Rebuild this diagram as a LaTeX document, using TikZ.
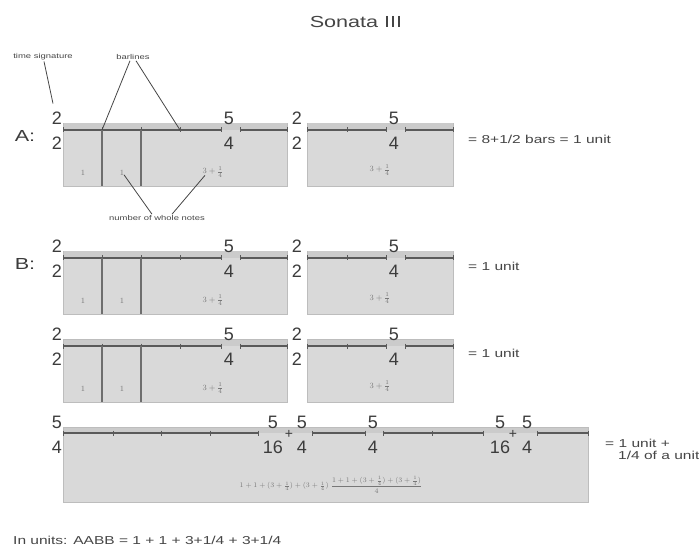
\documentclass[tikz,border=0pt]{standalone}
\usepackage{fontspec}
\setmainfont{Liberation Sans}
\newfontfamily\widefont{Liberation Sans}[FakeStretch=1.35]
\usepackage{amsmath}
\definecolor{boxfill}{HTML}{D9D9D9}
\definecolor{boxedge}{HTML}{BDBDBD}
\definecolor{bandfill}{HTML}{CBCBCB}
\definecolor{linegray}{HTML}{5A5A5A}
\definecolor{bargray}{HTML}{6E6E6E}
\definecolor{tsgray}{HTML}{3C3C3C}
\definecolor{notegray}{HTML}{454545}
\definecolor{countgray}{HTML}{777777}

\begin{document}
\begin{tikzpicture}[x=1pt, y=-1pt,
                    staff/.style={draw=boxedge, fill=boxfill, inner sep=0pt, outer sep=0pt, anchor=north west},
                    band/.style={fill=bandfill},
                    staffline/.style={draw=linegray, line width=1.2pt},
                    tick/.style={draw=linegray, line width=0.9pt},
                    barline/.style={draw=bargray, line width=2pt},
                    ts/.style={font=\fontsize{18}{18}\selectfont, text=tsgray, inner sep=0pt},
                    rowlab/.style={font=\widefont\fontsize{16}{16}\selectfont, text=tsgray, inner sep=0pt},
                    count/.style={font=\fontsize{8}{8}\selectfont, text=countgray, inner sep=1pt},
                    note/.style={font=\widefont\fontsize{11.5}{12}\selectfont, text=notegray, anchor=west, inner sep=0pt, align=left},
                    small/.style={font=\widefont\fontsize{7}{8}\selectfont, text=notegray, inner sep=1pt},
                    lbl/.style={draw=notegray, line width=0.8pt}]

\useasboundingbox (0,0) rectangle (699,548);

\node[font=\widefont\fontsize{16}{16}\selectfont, text=notegray] (title) at (356,22) {Sonata III};

% phrase A and the two B phrases
\foreach \r/\L/\lab in {a/130/A:, b/258/B:, c/346/} {
  \node[staff, minimum width=224pt, minimum height=63pt] (\r-m1) at (63,\L-7) {};
  \node[staff, minimum width=146pt, minimum height=63pt] (\r-m2) at (307,\L-7) {};
  \fill[band] (63.5,\L-6.5) rectangle (286.5,\L);
  \fill[band] (307.5,\L-6.5) rectangle (452.5,\L);
  \draw[staffline] (63,\L) -- (221,\L) (240,\L) -- (287,\L) (307,\L) -- (386,\L) (405,\L) -- (453,\L);
  \foreach \x in {63,102,141,180,221,240,287,307,347,386,405,453}
    \draw[tick] (\x,\L-2.5) -- (\x,\L+2.5);
  \draw[barline] (102,\L) -- (102,\L+56);
  \draw[barline] (141,\L) -- (141,\L+56);
  \coordinate (\r-bar1) at (102,\L);
  \coordinate (\r-tick4) at (180,\L);
  \node[rowlab] (\r-lab) at (25,\L+6) {\lab};
  \node[ts] (\r-s1u) at (57,\L-12) {2};
  \node[ts] (\r-s1d) at (57,\L+13) {2};
  \node[ts] (\r-s2u) at (229,\L-12) {5};
  \node[ts] (\r-s2d) at (229,\L+13) {4};
  \node[ts] (\r-s3u) at (297,\L-12) {2};
  \node[ts] (\r-s3d) at (297,\L+13) {2};
  \node[ts] (\r-s4u) at (394,\L-12) {5};
  \node[ts] (\r-s4d) at (394,\L+13) {4};
  \node[count] (\r-w1) at (83,\L+43) {$1$};
  \node[count] (\r-w2) at (122,\L+43) {$1$};
  \node[count] (\r-w3) at (213,\L+42) {$3+\frac{1}{4}$};
  \node[count] (\r-w4) at (380,\L+40) {$3+\frac{1}{4}$};
}

\node[note] (a-sum) at (468,139) {= 8+1/2 bars = 1 unit};
\node[note] (b-sum) at (468,266) {= 1 unit};
\node[note] (c-sum) at (468,353) {= 1 unit};

% labels of phrase A
\node[small] (tsig) at (43,57) {time signature};
\node[small] (blines) at (133,57) {barlines};
\node[small] (whole) at (157,218) {number of whole notes};
\draw[lbl] ([xshift=1pt]tsig.south) -- ([xshift=-4pt, yshift=8pt]a-s1u.north);
\draw[lbl] ([xshift=-3pt]blines.south) -- (a-bar1);
\draw[lbl] ([xshift=3pt]blines.south) -- (a-tick4);
\draw[lbl] ([xshift=-5pt]whole.north) -- ([xshift=2pt, yshift=2pt]a-w2.south);
\draw[lbl] ([xshift=15pt]whole.north) -- ([xshift=-8pt, yshift=3pt]a-w3.south);

% last B phrase
\node[staff, minimum width=525pt, minimum height=75pt] (d-m1) at (63,427) {};
\fill[band] (63.5,427.5) rectangle (587.5,433);
\draw[staffline] (63,433) -- (258,433) (312,433) -- (365,433) (383,433) -- (483,433) (537,433) -- (588,433);
\foreach \x in {63,113,161,210,258,312,365,383,432,483,537,588}
  \draw[tick] (\x,430.5) -- (\x,435.5);
\node[ts] (d-s1u) at (57,422) {5};
\node[ts] (d-s1d) at (57,447) {4};
\node[ts] (d-s2u) at (273,422) {5};
\node[ts] (d-s2d) at (273,447) {16};
\node[ts, font=\fontsize{14}{14}\selectfont] (d-p1) at (289,434) {+};
\node[ts] (d-s3u) at (302,422) {5};
\node[ts] (d-s3d) at (302,447) {4};
\node[ts] (d-s4u) at (373,422) {5};
\node[ts] (d-s4d) at (373,447) {4};
\node[ts] (d-s5u) at (500,422) {5};
\node[ts] (d-s5d) at (500,447) {16};
\node[ts, font=\fontsize{14}{14}\selectfont] (d-p2) at (513,434) {+};
\node[ts] (d-s6u) at (527,422) {5};
\node[ts] (d-s6d) at (527,447) {4};
\node[count, font=\fontsize{7}{7}\selectfont] (d-w1) at (331,485) {$1+1+(3+\frac{1}{4})+(3+\frac{1}{4})\;\dfrac{1+1+(3+\frac{1}{4})+(3+\frac{1}{4})}{4}$};
\node[note] (d-sum) at (605,449) {= 1 unit +\\\hspace*{13pt}1/4 of a unit};

\node[note] (total) at (13,540) {In units: AABB = 1 + 1 + 3+1/4 + 3+1/4};

\end{tikzpicture}
\end{document}
